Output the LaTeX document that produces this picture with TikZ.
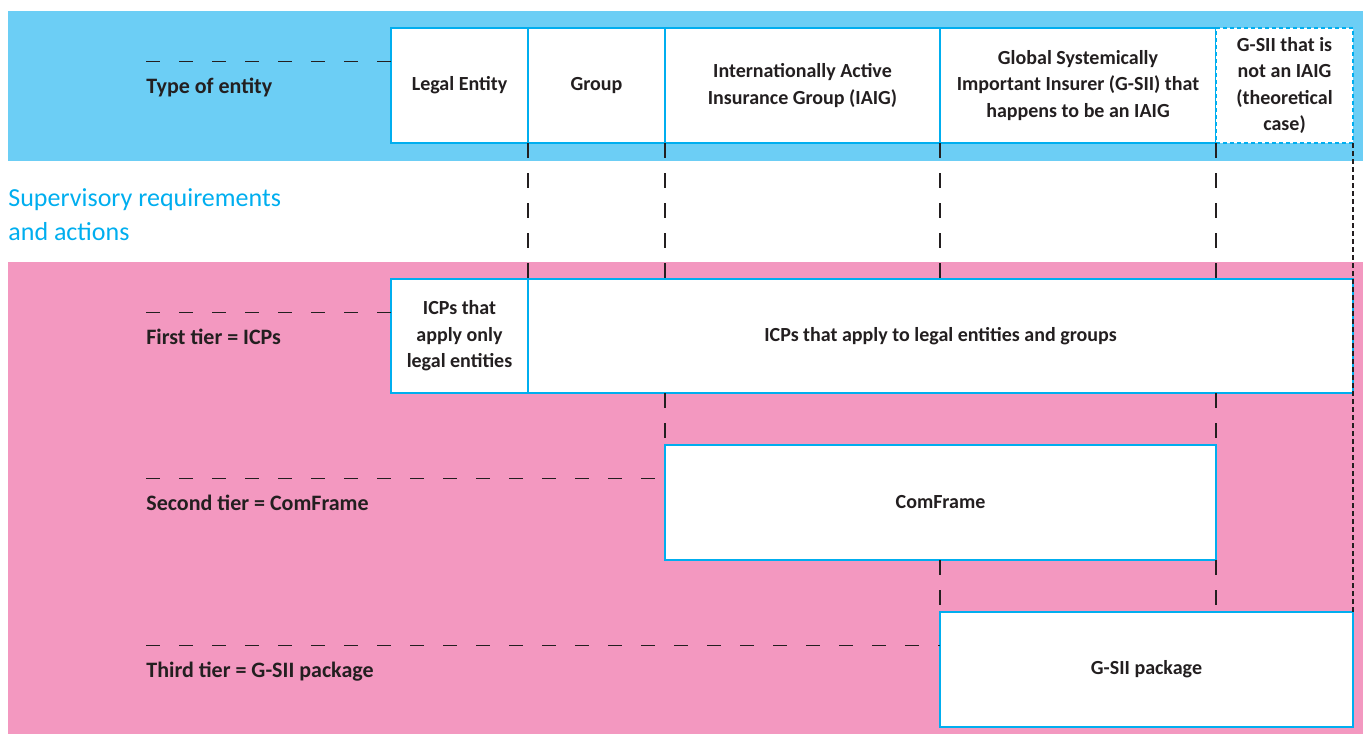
\documentclass[tikz,border=0pt]{standalone}
\usepackage{fontspec}
\setmainfont{Carlito}
\usetikzlibrary{positioning}
\definecolor{bandblue}{RGB}{108,206,245}
\definecolor{lineblue}{RGB}{0,174,239}
\definecolor{bandpink}{RGB}{243,152,192}
\definecolor{inkgrey}{RGB}{35,31,32}

\begin{document}
\begin{tikzpicture}[x=0.5pt,y=-0.5pt,node distance=0pt and 0pt]

\tikzset{boxnode/.style={font=\fontsize{10}{13.25}\selectfont\bfseries,text=inkgrey,fill=white,draw=lineblue,line width=0.8pt,inner sep=2pt,outer sep=0pt,align=center,shape=rectangle,minimum height=57.5pt},
dashnode/.style={boxnode,dash pattern=on 2pt off 1.5pt},
tierlabel/.style={font=\fontsize{11}{13}\selectfont\bfseries,text=inkgrey,inner sep=0pt,anchor=base west},
tierline/.style={draw=inkgrey,line width=0.5pt,dash pattern=on 7pt off 9.5pt},
colline/.style={draw=inkgrey,line width=1pt,dash pattern=on 7.5pt off 7.5pt},
dotline/.style={draw=inkgrey,line width=1pt,dash pattern=on 2.5pt off 1.5pt}}

\useasboundingbox (0,0) rectangle (1363,734);

% Bands
\fill[bandblue] (8,11) rectangle (1363,161);
\fill[bandpink] (8,262) rectangle (1363,734);

% Type of entity row
\node[boxnode,minimum width=68.5pt,anchor=north west] (legal) at (391,28) {Legal Entity};
\node[boxnode,minimum width=68.5pt,right=of legal] (group) {Group};
\node[boxnode,minimum width=137.5pt,right=of group] (iaig) {Internationally Active\\Insurance Group (IAIG)};
\node[boxnode,minimum width=138pt,right=of iaig] (gsii) {Global Systemically\\Important Insurer (G-SII) that\\happens to be an IAIG};
\node[dashnode,minimum width=68.5pt,right=of gsii] (theo) {G-SII that is\\not an IAIG\\(theoretical\\case)};

% Supervisory tiers
\node[boxnode,minimum width=68.5pt,minimum height=57pt,anchor=north west] (icponly) at (391,279) {ICPs that\\apply only\\legal entities};
\node[boxnode,minimum width=412.5pt,minimum height=57pt,right=of icponly] (icpall) {ICPs that apply to legal entities and groups};
\node[boxnode,minimum width=275.5pt,anchor=north west] (comframe) at (665,445) {ComFrame};
\node[boxnode,minimum width=206.5pt,anchor=north west] (gsiipkg) at (940,612) {G-SII package};

% Left labels
\node[font=\fontsize{13}{17}\selectfont,text=lineblue,align=left,anchor=north west,inner sep=0pt] (superv) at (8,188) {Supervisory requirements\\and actions};

\coordinate (typeL) at (146,61);
\coordinate (firstL) at (146,312);
\coordinate (secondL) at (146,478);
\coordinate (thirdL) at (146,645);
\draw[tierline] (typeL) -- (typeL -| legal.west);
\draw[tierline] (firstL) -- (firstL -| icponly.west);
\draw[tierline] (secondL) -- (secondL -| comframe.west);
\draw[tierline] (thirdL) -- (thirdL -| gsiipkg.west);
\node[tierlabel] (typelab) at (146,93) {Type of entity};
\node[tierlabel] (firstlab) at (146,344) {First tier = ICPs};
\node[tierlabel] (secondlab) at (146,510) {Second tier = ComFrame};
\node[tierlabel] (thirdlab) at (146,677) {Third tier = G-SII package};

% Column guides
\draw[colline] (legal.south east) -- (icpall.north west);
\draw[colline] (group.south east) -- (group.south east |- icpall.north);
\draw[colline] (iaig.south east) -- (iaig.south east |- icpall.north);
\draw[colline] (gsii.south east) -- (gsii.south east |- icpall.north);
\draw[colline] (icpall.south -| comframe.west) -- (comframe.north west);
\draw[colline] (icpall.south -| comframe.east) -- (comframe.north east);
\draw[colline] (comframe.south -| gsiipkg.west) -- (gsiipkg.north west);
\draw[colline] (comframe.south east) -- (comframe.south east |- gsiipkg.north);
\draw[dotline] (theo.south east) -- (gsiipkg.north east);

\end{tikzpicture}
\end{document}
